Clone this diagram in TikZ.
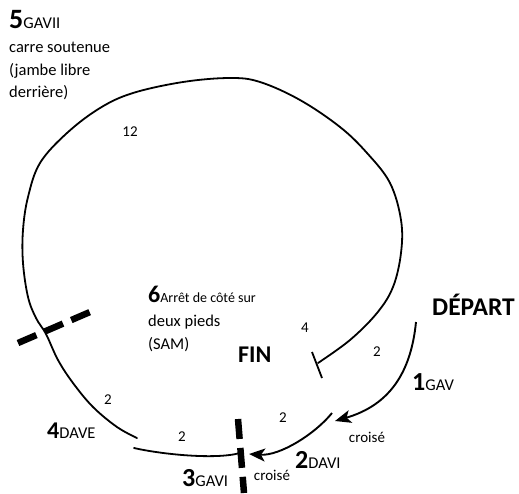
\documentclass[tikz,border=0pt]{standalone}
\usepackage{fontspec}
\setmainfont{Carlito}
\usetikzlibrary{arrows.meta}
\newcommand\bnum[2][26]{{\fontsize{#1}{#1}\selectfont\bfseries #2}}
\begin{document}
\begin{tikzpicture}[x=1pt,y=-1pt,
  loopline/.style={line width=1.8pt, line cap=round},
  arr/.style={line width=1.9pt, -{Stealth[length=16pt,width=13pt,inset=4pt]}},
  thickdash/.style={line width=6.5pt, dash pattern=on 20pt off 9pt},
  txt/.style={anchor=base west, inner sep=0pt, font=\fontsize{16.5}{20}\selectfont},
  smalltxt/.style={anchor=base west, inner sep=0pt, font=\fontsize{14}{18}\selectfont},
  num/.style={inner sep=0pt, font=\fontsize{15}{18}\selectfont},
  head/.style={anchor=base west, inner sep=0pt, font=\fontsize{24}{24}\selectfont\bfseries}]
\useasboundingbox (0,0) rectangle (519,493);

% named end points
\coordinate (loopS) at (137,438);
\coordinate (finT) at (318,363);
\coordinate (barA) at (312,352);
\coordinate (barB) at (322,378);
\coordinate (dep) at (416,322);
\coordinate (a1) at (335,421);
\coordinate (d2) at (332,413);
\coordinate (a2) at (249,454);
\coordinate (s3) at (134,448);
\coordinate (e3) at (240,453);
\coordinate (dA) at (18,343);
\coordinate (dB) at (90,312);
\coordinate (vA) at (238,419);
\coordinate (vB) at (244,493);

% big loop
\draw[loopline] plot[smooth, tension=0.6] coordinates {(137,438) (117,427) (93,407) (73,383) (58,360) (46,334) (36,318) (28,297) (23,263) (23,230) (28,197) (40,163) (67,133) (100,108) (133,93) (183,82) (230,78) (260,82) (300,100) (340,127) (367,153) (390,183) (401,220) (401,253) (393,287) (377,313) (350,340) (318,363)};
\draw[line width=1.8pt] (barA) -- (barB);

% arrows
\draw[arr] (dep) .. controls (411,372) and (390,405) .. (a1);
\draw[arr] (d2) .. controls (315,434) and (280,456) .. (a2);
\draw[loopline] (s3) .. controls (160,454) and (215,460) .. (e3);

% thick dashed marks
\draw[thickdash] (dA) -- (dB);
\draw[thickdash] (vA) -- (vB);

% texts
\node[txt] (t5) at (9,28) {\bnum[28]{5}GAVII};
\node[txt] (t5b) at (9,52) {carre soutenue};
\node[txt] (t5c) at (9,75) {(jambe libre};
\node[txt] (t5d) at (9,97) {derrière)};

\node[smalltxt] (t6) at (148,302) {\bnum[24]{6}Arrêt de côté sur};
\node[txt] (t6b) at (148,326) {deux pieds};
\node[txt] (t6c) at (148,349) {(SAM)};

\node[head] (fin) at (238,362) {FIN};
\node[head, font=\fontsize{25.5}{26}\selectfont\bfseries] (depart) at (432,315) {DÉPART};

\node[txt] (l1) at (412,390) {\bnum{1}GAV};
\node[txt] (l2) at (295,468) {\bnum{2}DAVI};
\node[txt] (l3) at (182,486) {\bnum{3}GAVI};
\node[txt] (l4) at (47,438) {\bnum[24]{4}DAVE};

\node[num] (n12) at (130,132) {12};
\node[num] (n4) at (305,328) {4};
\node[num] (n2a) at (377,352) {2};
\node[num] (n2b) at (283,418) {2};
\node[num] (n2c) at (182,437) {2};
\node[num] (n2d) at (108,400) {2};
\node[num] (cr1) at (367,437) {croisé};
\node[num] (cr2) at (272,475) {croisé};
\end{tikzpicture}
\end{document}
